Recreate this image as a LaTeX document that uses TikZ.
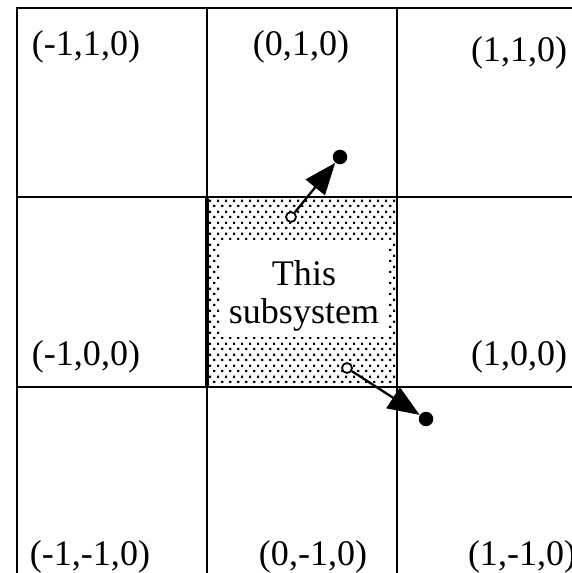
\documentclass[tikz,border=0pt]{standalone}
\usepackage{fontspec}
\setmainfont{Liberation Serif}
\usetikzlibrary{arrows.meta, patterns}

\pgfdeclarepatternformonly{subdots}{\pgfpointorigin}{\pgfqpoint{4.5pt}{6pt}}{\pgfqpoint{4.5pt}{6pt}}{%
    \pgfpathrectangle{\pgfqpoint{0.1pt}{0.1pt}}{\pgfqpoint{1.2pt}{1.2pt}}
    \pgfpathrectangle{\pgfqpoint{2.35pt}{3.1pt}}{\pgfqpoint{1.2pt}{1.2pt}}
    \pgfusepath{fill}}

\begin{document}
\begin{tikzpicture}[
        x=0.02cm, y=-0.02cm,
        cellline/.style={line width=1.2pt},
        cell/.style={inner sep=0pt, font=\fontsize{20.5}{24}\selectfont},
        opendot/.style={circle, draw, line width=1pt, fill=white, inner sep=0pt, minimum size=0.2cm},
        fulldot/.style={circle, fill=black, inner sep=0pt, minimum size=0.29cm},
        arrowline/.style={-{Triangle[length=18pt, width=14pt]}, line width=1.3pt}
    ]
    \useasboundingbox (0,0) rectangle (571,573);
    % this subsystem
    \fill[pattern=subdots] (207,197) rectangle (397,387);
    \fill[white] (220,243) rectangle (388,337);
    \node[cell, align=center, font=\fontsize{20.5}{21.6}\selectfont] (self) at (304,296) {This\\subsystem};
    % grid
    \draw[line width=1.5pt] (17,600) -- (17,8) -- (600,8);
    \foreach \x in {207,397}
        \draw[cellline] (\x,8) -- (\x,600);
    \foreach \y in {197,387}
        \draw[cellline] (17,\y) -- (600,\y);
    \draw[line width=2.6pt] (207,197) -- (207,387);
    % neighbour labels
    \node[cell] (nw) at (86,47) {(-1,1,0)};
    \node[cell] (n) at (301,47) {(0,1,0)};
    \node[cell] (ne) at (519,53) {(1,1,0)};
    \node[cell] (w) at (86,357) {(-1,0,0)};
    \node[cell] (e) at (519,357) {(1,0,0)};
    \node[cell] (sw) at (90,557) {(-1,-1,0)};
    \node[cell] (s) at (313,557) {(0,-1,0)};
    \node[cell] (se) at (522,557) {(1,-1,0)};
    % particles leaving
    \node[opendot] (from1) at (291,217) {};
    \node[fulldot] (to1) at (340,157) {};
    \node[opendot] (from2) at (347,368) {};
    \node[fulldot] (to2) at (426,419) {};
    \draw[arrowline] (from1) -- (to1);
    \draw[arrowline] (from2) -- (to2);
\end{tikzpicture}
\end{document}
